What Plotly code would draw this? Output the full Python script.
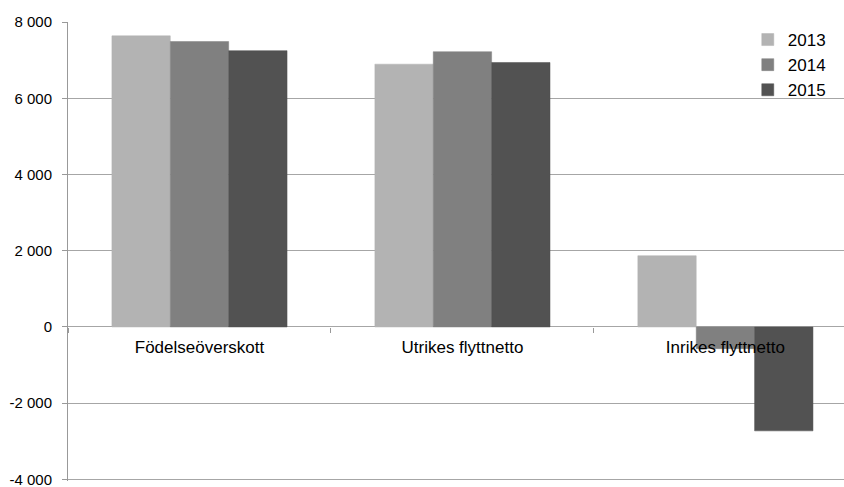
import plotly.graph_objects as go

categories = ["Födelseöverskott", "Utrikes flyttnetto", "Inrikes flyttnetto"]
years = ["2013", "2014", "2015"]
values_2013 = [7637, 6894, 1869]
values_2014 = [7487, 7221, -568]
values_2015 = [7248, 6938, -2725]
y_tickvals = [-4000, -2000, 0, 2000, 4000, 6000, 8000]
y_ticktext = ["-4 000", "-2 000", "0", "2 000", "4 000", "6 000", "8 000"]

series = [values_2013, values_2014, values_2015]
colors = ["#B3B3B3", "#808080", "#525252"]

fig = go.Figure()
for name, vals, col in zip(years, series, colors):
    fig.add_trace(go.Bar(
        x=categories, y=vals, name=name,
        marker=dict(color=col, line=dict(color=col, width=0.5)),
    ))

ymin, ymax = y_tickvals[0] - 40, y_tickvals[-1]

fig.update_layout(
    width=844, height=487,
    margin=dict(l=68, r=0, t=22, b=6, autoexpand=False),
    paper_bgcolor="white", plot_bgcolor="white",
    barmode="group", bargap=0.334, bargroupgap=0,
    font=dict(family="Liberation Sans, Arial, sans-serif", color="#000000"),
    showlegend=True,
    legend=dict(
        x=0.876, xanchor="left", y=1.0, yanchor="top",
        font=dict(size=17, color="#000000"),
        bgcolor="rgba(0,0,0,0)", itemwidth=30,
        tracegroupgap=0,
    ),
    xaxis=dict(
        type="category",
        range=[-0.5, 2.451],
        anchor="free",
        position=(0 - ymin) / (ymax - ymin),
        automargin=False,
        showgrid=False, showline=False, zeroline=False,
        ticks="outside", tickson="boundaries", ticklen=5,
        tickcolor="#999999", tickwidth=1,
        ticklabelstandoff=8,
        tickfont=dict(size=17, color="#000000"),
    ),
    yaxis=dict(
        range=[ymin, ymax],
        automargin=False,
        tickvals=y_tickvals, ticktext=y_ticktext,
        showgrid=True, gridcolor="#A6A6A6", gridwidth=1,
        zeroline=False,
        showline=True, linecolor="#999999", linewidth=1,
        ticks="outside", ticklen=5, tickcolor="#999999",
        ticklabelstandoff=7, ticklabeloverflow="allow",
        tickfont=dict(size=15, color="#000000"),
    ),
)

fig.write_html(
    "out.html",
    config={"displayModeBar": False},
    post_script="document.body.style.margin='0';document.body.style.overflow='hidden';",
)
